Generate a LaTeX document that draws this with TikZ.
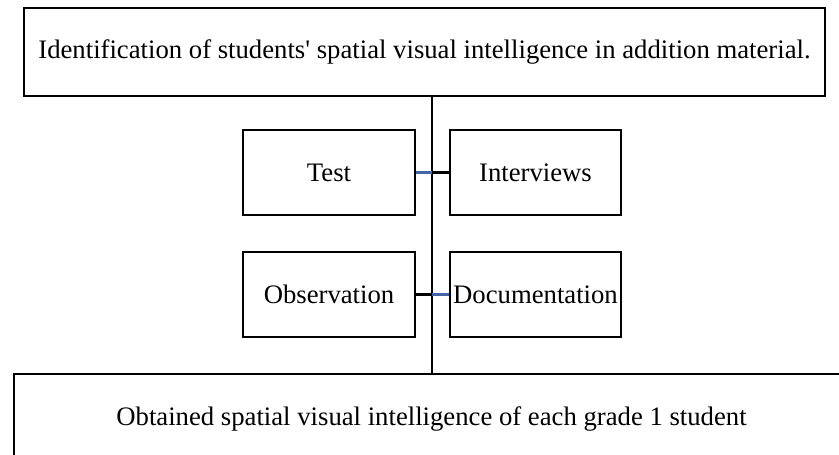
\documentclass[tikz,border=0pt]{standalone}
\usepackage{fontspec}
\setmainfont{Liberation Serif}
\begin{document}
\begin{tikzpicture}[x=1pt,y=-1pt,
  txt/.style={font=\fontsize{26.7}{30}\selectfont},
  box/.style={draw=black,line width=2.2pt,inner sep=0pt,txt},
  link/.style={line width=2.2pt},
  bluelink/.style={line width=2.2pt,draw={rgb,255:red,68;green,100;blue,170}}]
\useasboundingbox (0,0) rectangle (839,455);
\begin{scope}
\clip (0,0) rectangle (839,455);
\node[box,minimum width=801pt,minimum height=88pt] (top) at (424.5,52) {\raisebox{-4pt}{Identification of students\textquotesingle\ spatial visual intelligence in addition material.}};
\node[box,minimum width=172pt,minimum height=85pt] (test) at (329,172.5) {Test};
\node[box,minimum width=171pt,minimum height=85pt] (inter) at (535.5,172.5) {Interviews};
\node[box,minimum width=172pt,minimum height=85pt] (obs) at (329,294.5) {Observation};
\node[box,minimum width=171pt,minimum height=85pt] (doc) at (535.5,294.5) {Documentation};
\node[box,minimum width=900pt,minimum height=120pt,anchor=north west] (bot) at (13,373) {};
\node[txt] (bottext) at (431.5,419) {Obtained spatial visual intelligence of each grade 1 student};
\coordinate (m1) at (432,172.5);
\coordinate (m2) at (432,294.5);
\draw[link] (top.south -| m1) -- (bot.north -| m1);
\draw[bluelink] (test.east) -- (m1);
\draw[link] (m1) -- (inter.west);
\draw[link] (obs.east) -- (m2);
\draw[bluelink] (m2) -- (doc.west);
\end{scope}
\end{tikzpicture}
\end{document}
